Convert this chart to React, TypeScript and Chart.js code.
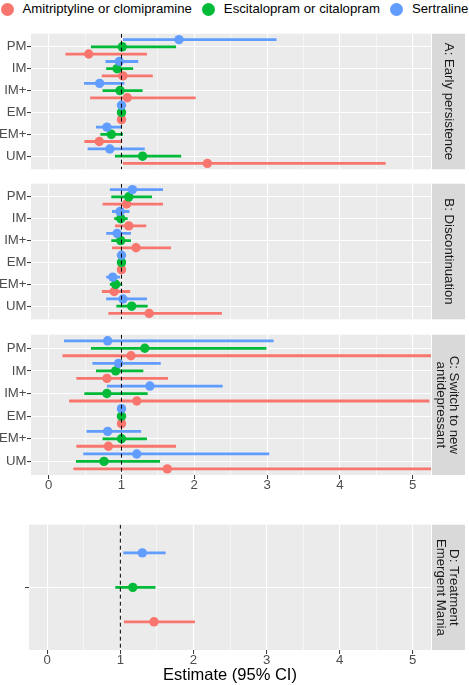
import React, { useEffect, useRef } from "react";
import { Chart, registerables } from "chart.js";

Chart.register(...registerables);

const FONT = '"Liberation Sans", Arial, Helvetica, sans-serif';

// ---------- data ----------
const CATEGORIES = ["PM", "IM", "IM+", "EM", "EM+", "UM"];
const D_CATEGORIES = [""];
// series order: 0 = Sertraline, 1 = Escitalopram or citalopram, 2 = Amitriptyline or clomipramine
const SERIES = ["Sertraline", "Escitalopram or citalopram", "Amitriptyline or clomipramine"];
const LEGEND_ORDER = [2, 1, 0];
const COLORS = ["#619CFF", "#00BA38", "#F8766D"];
const X_TICKS = [0, 1, 2, 3, 4, 5];
const REFERENCE = 1;
const X_TITLE = "Estimate (95% CI)";

// A: Early persistence
const A_SER_EST = [1.79, 0.97, 0.7, 1, 0.8, 0.84];
const A_SER_LO = [1.02, 0.78, 0.485, 1, 0.65, 0.535];
const A_SER_HI = [3.13, 1.23, 1.04, 1, 1.0, 1.32];
const A_ESC_EST = [1.01, 0.94, 0.98, 1, 0.86, 1.29];
const A_ESC_LO = [0.58, 0.79, 0.74, 1, 0.71, 0.91];
const A_ESC_HI = [1.75, 1.16, 1.29, 1, 1.02, 1.82];
const A_AMI_EST = [0.55, 1.02, 1.08, 1, 0.695, 2.18];
const A_AMI_LO = [0.23, 0.73, 0.57, 1, 0.49, 1.02];
const A_AMI_HI = [1.35, 1.43, 2.02, 1, 1.01, 4.63];

// B: Discontinuation
const B_SER_EST = [1.15, 0.98, 0.94, 1, 0.88, 1.02];
const B_SER_LO = [0.84, 0.87, 0.79, 1, 0.79, 0.79];
const B_SER_HI = [1.57, 1.11, 1.13, 1, 0.98, 1.35];
const B_ESC_EST = [1.1, 0.99, 0.99, 1, 0.92, 1.14];
const B_ESC_LO = [0.86, 0.9, 0.86, 1, 0.84, 0.93];
const B_ESC_HI = [1.42, 1.085, 1.13, 1, 1.01, 1.36];
const B_AMI_EST = [1.07, 1.1, 1.2, 1, 0.9, 1.38];
const B_AMI_LO = [0.74, 0.91, 0.87, 1, 0.73, 0.82];
const B_AMI_HI = [1.57, 1.34, 1.68, 1, 1.12, 2.38];

// C: Switch to new antidepressant
const C_SER_EST = [0.81, 0.96, 1.39, 1, 0.81, 1.21];
const C_SER_LO = [0.21, 0.6, 0.8, 1, 0.52, 0.475];
const C_SER_HI = [3.09, 1.54, 2.39, 1, 1.27, 3.03];
const C_ESC_EST = [1.32, 0.92, 0.8, 1, 1.0, 0.76];
const C_ESC_LO = [0.58, 0.65, 0.49, 1, 0.74, 0.375];
const C_ESC_HI = [2.99, 1.3, 1.36, 1, 1.35, 1.53];
const C_AMI_EST = [1.13, 0.8, 1.21, 1, 0.82, 1.63];
const C_AMI_LO = [0.19, 0.38, 0.28, 1, 0.38, 0.34];
const C_AMI_HI = [6.5, 1.64, 5.23, 1, 1.75, 6.5];

// D: Treatment Emergent Mania
const D_SER_EST = [1.3];
const D_SER_LO = [1.04];
const D_SER_HI = [1.62];
const D_ESC_EST = [1.17];
const D_ESC_LO = [0.93];
const D_ESC_HI = [1.48];
const D_AMI_EST = [1.46];
const D_AMI_LO = [1.05];
const D_AMI_HI = [2.02];

const STRIP_A = "A: Early persistence";
const STRIP_B = "B: Discontinuation";
const STRIP_C = ["C: Switch to new", "antidepressant"];
const STRIP_D = ["D: Treatment", "Emergent Mania"];

// ---------- styling ----------
const DODGE = 0.33;
const GRID_VALUES = X_TICKS.flatMap((t, i) =>
  i < X_TICKS.length - 1 ? [t, (t + X_TICKS[i + 1]) / 2] : [t]
);

const panelBg = {
  id: "panelBg",
  beforeDraw(chart: any) {
    const { ctx, chartArea: ca } = chart;
    ctx.save();
    ctx.fillStyle = "#EBEBEB";
    ctx.fillRect(ca.left, ca.top, ca.right - ca.left, ca.bottom - ca.top);
    ctx.fillStyle = "#D9D9D9";
    ctx.fillRect(ca.right + 1, ca.top, 33, ca.bottom - ca.top);
    ctx.restore();
  },
};

type PanelProps = {
  top: number;
  height: number;
  yAxisWidth: number;
  xAxisHeight: number;
  xMin: number;
  xMax: number;
  categories: string[];
  est: number[][];
  lo: number[][];
  hi: number[][];
  strip: string | string[];
  stripPad: { top: number; bottom: number };
  showX: boolean;
  xTitle?: string;
};

function Panel(p: PanelProps) {
  const ref = useRef<HTMLCanvasElement | null>(null);
  useEffect(() => {
    if (!ref.current) return;
    const yMin = 0.4;
    const yMax = p.categories.length + 0.6;
    const yOf = (i: number, s: number) => i + 1 + (s - 1) * DODGE;
    const datasets: any[] = [];
    datasets.push({
      type: "line",
      data: [
        { x: REFERENCE, y: yMin },
        { x: REFERENCE, y: yMax },
      ],
      borderColor: "#000000",
      borderWidth: 1,
      borderDash: [4, 3],
      pointRadius: 0,
      order: 0,
    });
    for (let s = 0; s < SERIES.length; s++) {
      datasets.push({
        type: "line",
        label: SERIES[s] + " CI",
        data: p.categories.flatMap((_, i) => [
          { x: p.lo[s][i], y: yOf(i, s) },
          { x: p.hi[s][i], y: yOf(i, s) },
          { x: null, y: null },
        ]),
        borderColor: COLORS[s],
        borderWidth: 2.8,
        pointRadius: 0,
        spanGaps: false,
        clip: 0,
        order: 2,
      });
      datasets.push({
        type: "scatter",
        label: SERIES[s],
        data: p.categories.map((_, i) => ({ x: p.est[s][i], y: yOf(i, s) })),
        backgroundColor: COLORS[s],
        borderWidth: 0,
        pointRadius: 4.7,
        order: 1,
      });
    }
    const chart = new Chart(ref.current, {
      type: "scatter",
      data: { datasets },
      plugins: [panelBg],
      options: {
        animation: false,
        responsive: false,
        events: [],
        layout: { padding: 0 },
        plugins: {
          legend: { display: false },
          tooltip: { enabled: false },
          title: {
            display: true,
            position: "right",
            fullSize: false,
            align: "center",
            text: p.strip,
            color: "#1A1A1A",
            font: { size: 13.2, family: FONT, weight: "normal", lineHeight: 1 },
            padding: p.stripPad,
          },
        },
        scales: {
          x: {
            type: "linear",
            min: p.xMin,
            max: p.xMax,
            afterBuildTicks: (sc: any) => {
              sc.ticks = GRID_VALUES.map((v) => ({ value: v }));
            },
            afterFit: (sc: any) => {
              sc.height = p.xAxisHeight;
              sc.paddingLeft = 0;
              sc.paddingRight = 0;
            },
            ticks: {
              display: p.showX,
              autoSkip: false,
              maxRotation: 0,
              padding: 0,
              color: "#4D4D4D",
              font: { size: 13.2, family: FONT, lineHeight: 1 },
              callback: (v: any) => (X_TICKS.includes(v) ? String(v) : ""),
            },
            grid: {
              color: "#FFFFFF",
              lineWidth: (c: any) => (c.tick && X_TICKS.includes(c.tick.value) ? 1.1 : 0.55),
              drawTicks: p.showX,
              tickLength: 4,
              tickWidth: 1,
              tickColor: (c: any) =>
                c.tick && X_TICKS.includes(c.tick.value) ? "#333333" : "rgba(0,0,0,0)",
            },
            border: { display: false },
            title: p.xTitle
              ? {
                  display: true,
                  text: p.xTitle,
                  color: "#000000",
                  font: { size: 16.5, family: FONT, lineHeight: 1 },
                  padding: { top: 0, bottom: 1 },
                }
              : { display: false },
          },
          y: {
            type: "linear",
            reverse: true,
            min: yMin,
            max: yMax,
            afterBuildTicks: (sc: any) => {
              sc.ticks = p.categories.map((_, i) => ({ value: i + 1 }));
            },
            afterFit: (sc: any) => {
              sc.width = p.yAxisWidth;
              sc.paddingTop = 0;
              sc.paddingBottom = 0;
            },
            ticks: {
              autoSkip: false,
              padding: 0.5,
              color: "#4D4D4D",
              font: { size: 13.2, family: FONT },
              callback: (v: any) => p.categories[Math.round(v) - 1] ?? "",
            },
            grid: {
              color: "#FFFFFF",
              lineWidth: 1.1,
              tickLength: 4,
              tickWidth: 1,
              tickColor: "#333333",
            },
            border: { display: false },
          },
        },
      } as any,
    });
    return () => chart.destroy();
  }, []);
  return (
    <canvas
      ref={ref}
      width={469}
      height={p.height}
      style={{ position: "absolute", left: 0, top: p.top, width: 469, height: p.height, display: "block" }}
    />
  );
}

function Legend() {
  return (
    <div
      style={{
        position: "absolute",
        left: 0,
        top: 2,
        width: 469,
        height: 14,
        display: "flex",
        justifyContent: "center",
        alignItems: "center",
        fontFamily: FONT,
        fontSize: 13.2,
        color: "#000",
        whiteSpace: "nowrap",
      }}
    >
      {LEGEND_ORDER.map((s, k) => (
        <div
          key={s}
          style={{ display: "flex", alignItems: "center", marginLeft: k === 0 ? 0 : 10 }}
        >
          <span
            style={{
              display: "inline-block",
              width: 13,
              height: 13,
              borderRadius: "50%",
              background: COLORS[s],
              marginRight: 9,
            }}
          />
          <span style={{ lineHeight: "14px" }}>{SERIES[s]}</span>
        </div>
      ))}
    </div>
  );
}

export default function App() {
  const common = { yAxisWidth: 31, xMin: -0.243, xMax: 5.252 };
  return (
    <div style={{ position: "absolute", left: 0, top: 0, width: 469, height: 685, background: "#fff" }}>
      <Legend />
      <Panel
        {...common}
        top={29}
        height={145}
        xAxisHeight={0}
        categories={CATEGORIES}
        est={[A_SER_EST, A_ESC_EST, A_AMI_EST]}
        lo={[A_SER_LO, A_ESC_LO, A_AMI_LO]}
        hi={[A_SER_HI, A_ESC_HI, A_AMI_HI]}
        strip={STRIP_A}
        stripPad={{ top: 13.4, bottom: 11.4 }}
        showX={false}
      />
      <Panel
        {...common}
        top={179}
        height={145}
        xAxisHeight={0}
        categories={CATEGORIES}
        est={[B_SER_EST, B_ESC_EST, B_AMI_EST]}
        lo={[B_SER_LO, B_ESC_LO, B_AMI_LO]}
        hi={[B_SER_HI, B_ESC_HI, B_AMI_HI]}
        strip={STRIP_B}
        stripPad={{ top: 13.4, bottom: 11.4 }}
        showX={false}
      />
      <Panel
        {...common}
        top={330}
        height={170}
        xAxisHeight={25}
        categories={CATEGORIES}
        est={[C_SER_EST, C_ESC_EST, C_AMI_EST]}
        lo={[C_SER_LO, C_ESC_LO, C_AMI_LO]}
        hi={[C_SER_HI, C_ESC_HI, C_AMI_HI]}
        strip={STRIP_C}
        stripPad={{ top: 8.6, bottom: 3 }}
        showX={true}
      />
      <Panel
        yAxisWidth={29}
        xMin={-0.25}
        xMax={5.25}
        top={520}
        height={165}
        xAxisHeight={35}
        categories={D_CATEGORIES}
        est={[D_SER_EST, D_ESC_EST, D_AMI_EST]}
        lo={[D_SER_LO, D_ESC_LO, D_AMI_LO]}
        hi={[D_SER_HI, D_ESC_HI, D_AMI_HI]}
        strip={STRIP_D}
        stripPad={{ top: 8.6, bottom: 3 }}
        showX={true}
        xTitle={X_TITLE}
      />
    </div>
  );
}
